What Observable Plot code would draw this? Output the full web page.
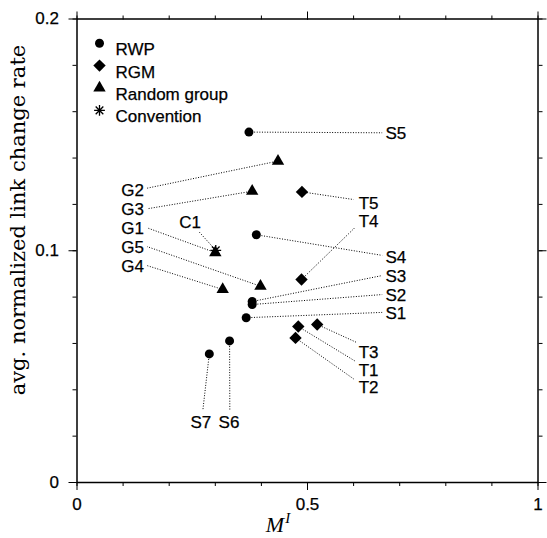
<!DOCTYPE html>
<html><head><meta charset="utf-8">
<script src="https://cdn.jsdelivr.net/npm/d3@7"></script>
<script src="https://cdn.jsdelivr.net/npm/@observablehq/plot@0.6"></script>
<style>body{margin:0;background:#fff}#chart svg{display:block}</style>
</head><body><div id="chart"></div>
<script>
// ---- data ----
const rwpNames = ["S1","S2","S3","S4","S5","S6","S7"];
const rwpX = [0.367, 0.380, 0.380, 0.389, 0.373, 0.331, 0.287];
const rwpY = [0.0711, 0.0768, 0.0781, 0.1069, 0.1512, 0.0611, 0.0555];
const rwpTextX = [0.669, 0.669, 0.669, 0.669, 0.669, 0.3297, 0.2685];
const rwpTextY = [0.0728, 0.0807, 0.0889, 0.0970, 0.1505, 0.0260, 0.0260];
const rwpLineX = [0.662, 0.662, 0.662, 0.662, 0.662, 0.3315, 0.2729];
const rwpLineY = [0.0734, 0.0811, 0.0893, 0.0980, 0.1509, 0.0310, 0.0310];

const rgmNames = ["T1","T2","T3","T4","T5"];
const rgmX = [0.480, 0.474, 0.521, 0.487, 0.488];
const rgmY = [0.0673, 0.0624, 0.0682, 0.0876, 0.1254];
const rgmTextX = [0.611, 0.611, 0.611, 0.611, 0.611];
const rgmTextY = [0.0483, 0.0409, 0.0562, 0.1126, 0.1203];
const rgmLineX = [0.604, 0.600, 0.608, 0.604, 0.600];
const rgmLineY = [0.0523, 0.0447, 0.0603, 0.1102, 0.1221];

const groupNames = ["G1","G2","G3","G4","G5"];
const groupX = [0.300, 0.436, 0.380, 0.316, 0.398];
const groupY = [0.0992, 0.1387, 0.1257, 0.0833, 0.0847];
const groupTextX = [0.145, 0.145, 0.145, 0.145, 0.145];
const groupTextY = [0.1095, 0.1260, 0.1177, 0.0932, 0.1013];
const groupLineX = [0.152, 0.152, 0.152, 0.152, 0.152];
const groupLineY = [0.1099, 0.1270, 0.1181, 0.0936, 0.1018];

const convNames = ["C1"];
const convX = [0.301];
const convY = [0.1002];
const convTextX = [0.2451];
const convTextY = [0.1122];
const convLineX = [0.2642];
const convLineY = [0.1083];

const legendNames = ["RWP", "RGM", "Random group", "Convention"];
const xMajorTicks = [0, 0.5, 1];
const xMajorLabels = ["0", "0.5", "1"];
const xMinorTicks = [0, 0.1, 0.2, 0.3, 0.4, 0.5, 0.6, 0.7, 0.8, 0.9, 1];
const yMajorTicks = [0, 0.1, 0.2];
const yMajorLabels = ["0", "0.1", "0.2"];
const yMinorTicks = [0, 0.02, 0.04, 0.06, 0.08, 0.1, 0.12, 0.14, 0.16, 0.18, 0.2];
const xLabelMain = "M";
const xLabelSup = "I";
const yLabel = "avg. normalized link change rate";

// ---- tables ----
function build(names, xs, ys, tx, ty, lx, ly) {
  return names.map((name, i) => ({name, x: xs[i], y: ys[i], tx: tx[i], ty: ty[i], lx: lx[i], ly: ly[i]}));
}
const rwp = build(rwpNames, rwpX, rwpY, rwpTextX, rwpTextY, rwpLineX, rwpLineY);
const rgm = build(rgmNames, rgmX, rgmY, rgmTextX, rgmTextY, rgmLineX, rgmLineY);
const grp = build(groupNames, groupX, groupY, groupTextX, groupTextY, groupLineX, groupLineY);
const conv = build(convNames, convX, convY, convTextX, convTextY, convLineX, convLineY);
const all = [...rwp, ...rgm, ...grp, ...conv];

const asterisk = {
  draw(ctx, size) {
    const r = Math.sqrt(size / Math.PI);
    for (let k = 0; k < 4; k++) {
      const a = k * Math.PI / 4;
      ctx.moveTo(r * Math.cos(a), r * Math.sin(a));
      ctx.lineTo(-r * Math.cos(a), -r * Math.sin(a));
    }
  }
};
const diamond = {
  draw(ctx, size) {
    const s = Math.sqrt(size / Math.PI);
    ctx.moveTo(0, -s); ctx.lineTo(s, 0); ctx.lineTo(0, s); ctx.lineTo(-s, 0); ctx.closePath();
  }
};

const symbolStyles = [
  {symbol: "circle", r: 4.5, fill: "black"},
  {symbol: diamond, r: 6.2, fill: "black", stroke: "none"},
  {symbol: "triangle", r: 4.6, fill: "black"},
  {symbol: asterisk, r: 5.4, fill: "none", stroke: "black", strokeWidth: 1.3}
];

const textStyle = {fill: "black", stroke: "black", strokeWidth: 0.25};
const blank = () => "";
const legendMarks = [];
legendNames.forEach((name, i) => {
  legendMarks.push(Plot.dot([name], {frameAnchor: "top-left", dx: 22.5, dy: 24.2 + 22.4 * i, ...symbolStyles[i]}));
  legendMarks.push(Plot.text([name], {frameAnchor: "top-left", dx: 38.5, dy: 24.2 + 22.4 * i, text: d => d, textAnchor: "start", ...textStyle}));
});

const chart = Plot.plot({
  width: 547,
  height: 538,
  marginLeft: 76.5,
  marginRight: 9.5,
  marginTop: 18.5,
  marginBottom: 56,
  style: {fontFamily: "'Liberation Sans', Arial, Helvetica, sans-serif", fontSize: "17px", background: "white", color: "black"},
  x: {domain: [0, 1], label: null},
  y: {domain: [0, 0.2], label: null},
  marks: [
    Plot.axisX(xMinorTicks, {anchor: "bottom", tickSize: 4, tickFormat: blank, label: null}),
    Plot.axisX(xMajorTicks, {anchor: "bottom", tickSize: 8, tickPadding: 7, tickFormat: d => xMajorLabels[xMajorTicks.indexOf(d)], label: null}),
    Plot.axisX(xMinorTicks, {anchor: "top", tickSize: 4, tickFormat: blank, label: null}),
    Plot.axisX(xMajorTicks, {anchor: "top", tickSize: 8, tickFormat: blank, label: null}),
    Plot.axisY(yMinorTicks, {anchor: "left", tickSize: 4, tickFormat: blank, label: null}),
    Plot.axisY(yMajorTicks, {anchor: "left", tickSize: 8, tickPadding: 10, tickFormat: d => yMajorLabels[yMajorTicks.indexOf(d)], label: null}),
    Plot.axisY(yMinorTicks, {anchor: "right", tickSize: 4, tickFormat: blank, label: null}),
    Plot.axisY(yMajorTicks, {anchor: "right", tickSize: 8, tickFormat: blank, label: null}),
    Plot.frame({stroke: "black", strokeWidth: 1.5}),
    Plot.link(all, {x1: "x", y1: "y", x2: "lx", y2: "ly", stroke: "black", strokeWidth: 1, strokeDasharray: "1,1.6"}),
    Plot.dot(rwp, {x: "x", y: "y", ...symbolStyles[0]}),
    Plot.dot(rgm, {x: "x", y: "y", ...symbolStyles[1]}),
    Plot.dot(grp, {x: "x", y: "y", ...symbolStyles[2]}),
    Plot.dot(conv, {x: "x", y: "y", ...symbolStyles[3]}),
    Plot.text(rwp.slice(0, 5), {x: "tx", y: "ty", text: "name", textAnchor: "start", ...textStyle}),
    Plot.text(rwp.slice(5), {x: "tx", y: "ty", text: "name", textAnchor: "middle", ...textStyle}),
    Plot.text(rgm, {x: "tx", y: "ty", text: "name", textAnchor: "start", ...textStyle}),
    Plot.text(grp, {x: "tx", y: "ty", text: "name", textAnchor: "end", ...textStyle}),
    Plot.text(conv, {x: "tx", y: "ty", text: "name", textAnchor: "middle", ...textStyle}),
    ...legendMarks
  ]
});

const svg = d3.select(chart);
svg.selectAll("g[aria-label='x-axis tick label'] text, g[aria-label='y-axis tick label'] text")
  .attr("stroke", "black").attr("stroke-width", 0.25);
svg.append("text")
  .attr("transform", "translate(24.5,220) rotate(-90)")
  .attr("text-anchor", "middle")
  .attr("font-family", "'DejaVu Serif', serif")
  .attr("font-size", 21)
  .attr("fill", "black")
  .text(yLabel);
const xl = svg.append("text")
  .attr("x", 278)
  .attr("y", 532)
  .attr("font-family", "'Liberation Serif', 'Times New Roman', serif")
  .attr("font-style", "italic")
  .attr("font-size", 22)
  .attr("fill", "black");
xl.append("tspan").text(xLabelMain);
xl.append("tspan").attr("font-size", 15).attr("dy", -9).attr("dx", 1).text(xLabelSup);

document.getElementById("chart").appendChild(chart);
</script>
</body></html>
